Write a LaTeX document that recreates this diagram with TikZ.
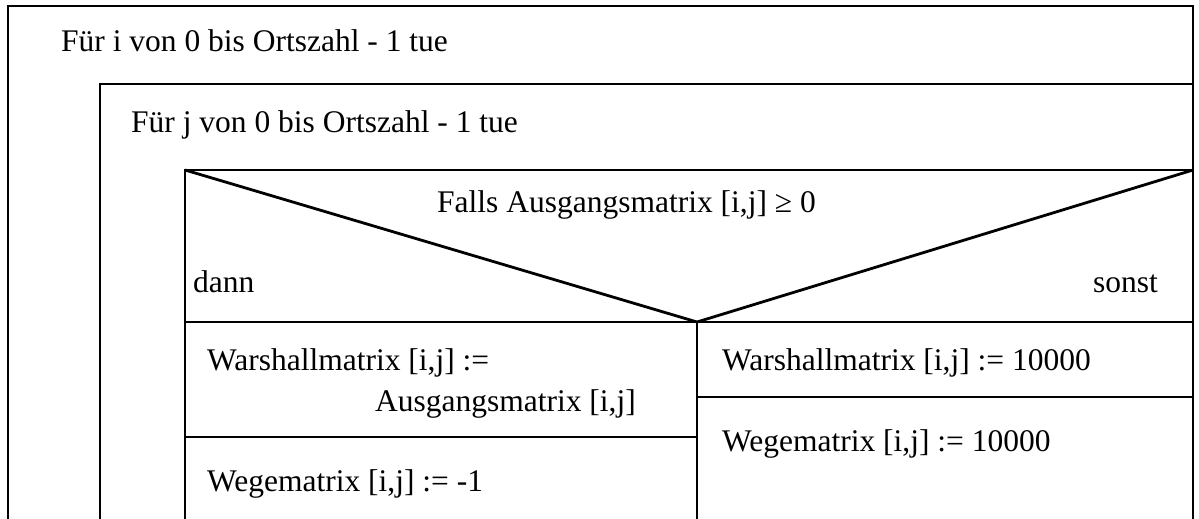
\documentclass[tikz,border=0pt]{standalone}
\usepackage{fontspec}
\setmainfont{Liberation Serif}
\begin{document}
\begin{tikzpicture}[x=1pt,y=-1pt,
  rule/.style={line width=2.8pt, line join=miter},
  txt/.style={anchor=base west, inner sep=0pt, font=\fontsize{31.5}{38}\selectfont},
  txtr/.style={txt, anchor=base east}]
\useasboundingbox (0,0) rectangle (1199,519);
\clip (0,0) rectangle (1199,519);

% corner points of the structogram
\coordinate (outerTL) at (8,6);
\coordinate (outerTR) at (1193,6);
\coordinate (outerBL) at (8,525);
\coordinate (outerBR) at (1193,525);
\coordinate (loopiTL) at (100,84);
\coordinate (loopiTR) at (1193,84);
\coordinate (loopiBL) at (100,525);
\coordinate (loopjTL) at (185,170);
\coordinate (loopjTR) at (1193,170);
\coordinate (loopjBL) at (185,525);
\coordinate (tip) at (697,322);
\coordinate (splitL) at (185,322);
\coordinate (splitR) at (1193,322);
\coordinate (tipB) at (697,525);
\coordinate (leftSepL) at (185,437);
\coordinate (leftSepR) at (697,437);
\coordinate (rightSepL) at (697,397);
\coordinate (rightSepR) at (1193,397);

% outer loop
\draw[rule] (outerBL) -- (outerTL) -- (outerTR) -- (outerBR);
% inner loop
\draw[rule] (loopiBL) -- (loopiTL) -- (loopiTR);
% decision block
\draw[rule] (loopjBL) -- (loopjTL) -- (loopjTR);
\draw[rule] (loopjTL) -- (tip) -- (loopjTR);
\draw[rule] (splitL) -- (splitR);
\draw[rule] (tip) -- (tipB);
\draw[rule] (leftSepL) -- (leftSepR);
\draw[rule] (rightSepL) -- (rightSepR);

% texts
\node[txt] (fori) at (61,52) {Für i von 0 bis Ortszahl - 1 tue};
\node[txt] (forj) at (131,132) {Für j von 0 bis Ortszahl - 1 tue};
\node[txt] (cond) at (437,212) {Falls Ausgangsmatrix [i,j] ≥ 0};
\node[txt] (dann) at (193,292) {dann};
\node[txtr] (sonst) at (1158,292) {sonst};
\node[txt] (wl1) at (207,370) {Warshallmatrix [i,j] :=};
\node[txtr] (wl2) at (636,411) {Ausgangsmatrix [i,j]};
\node[txt] (gl) at (207,491) {Wegematrix [i,j] := -1};
\node[txt] (wr) at (722,370) {Warshallmatrix [i,j] := 10000};
\node[txt] (gr) at (722,451) {Wegematrix [i,j] := 10000};
\end{tikzpicture}
\end{document}
